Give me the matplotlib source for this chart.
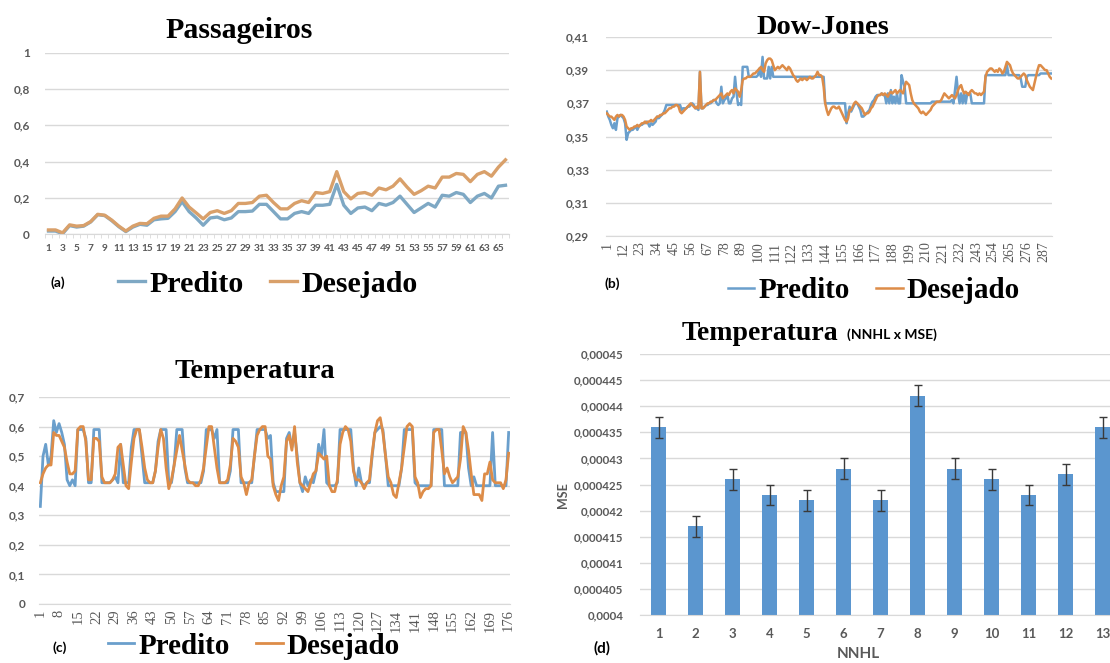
import numpy as np
import matplotlib
matplotlib.use("Agg")
import matplotlib.pyplot as plt
from matplotlib.ticker import FuncFormatter
from matplotlib.font_manager import FontProperties

# ---------------- data ----------------
# (a) Passageiros
pass_desejado = [0.024, 0.024, 0.008, 0.052, 0.045, 0.048, 0.07, 0.11, 0.105, 0.078,
                 0.045, 0.018, 0.045, 0.06, 0.058, 0.088, 0.1, 0.1, 0.14, 0.2,
                 0.15, 0.118, 0.085, 0.12, 0.13, 0.115, 0.13, 0.17, 0.17, 0.175,
                 0.21, 0.215, 0.175, 0.14, 0.14, 0.17, 0.185, 0.175, 0.23, 0.225,
                 0.235, 0.345, 0.235, 0.195, 0.225, 0.23, 0.215, 0.255, 0.245, 0.265,
                 0.305, 0.26, 0.22, 0.24, 0.265, 0.255, 0.315, 0.315, 0.335, 0.33,
                 0.29, 0.33, 0.345, 0.32, 0.37, 0.41]
pass_predito = [0.018, 0.018, 0.003, 0.048, 0.04, 0.045, 0.068, 0.108, 0.103, 0.075,
                0.042, 0.015, 0.04, 0.055, 0.05, 0.08, 0.085, 0.088, 0.125, 0.18,
                0.125, 0.09, 0.05, 0.09, 0.095, 0.08, 0.09, 0.125, 0.125, 0.128,
                0.165, 0.165, 0.125, 0.085, 0.085, 0.115, 0.125, 0.115, 0.16, 0.16,
                0.165, 0.275, 0.16, 0.115, 0.145, 0.15, 0.13, 0.17, 0.16, 0.175,
                0.21, 0.165, 0.12, 0.145, 0.17, 0.15, 0.215, 0.21, 0.23, 0.22,
                0.175, 0.21, 0.225, 0.2, 0.265, 0.27]
pass_yticks = [0, 0.2, 0.4, 0.6, 0.8, 1.0]
pass_xticks = list(range(1, 66, 2))

# (b) Dow-Jones, in thousandths
dow_desejado_k = [
    364, 363, 362, 362, 361, 360, 362, 363, 362, 363,
    363, 362, 360, 356, 355, 354, 355, 355, 356, 356,
    357, 356, 357, 358, 358, 359, 358, 359, 359, 360,
    359, 360, 361, 362, 362, 363, 363, 364, 364, 365,
    366, 367, 367, 368, 368, 369, 369, 368, 365, 364,
    365, 366, 367, 368, 369, 370, 369, 368, 367, 368,
    367, 389, 367, 367, 368, 369, 370, 370, 371, 371,
    372, 372, 373, 374, 375, 376, 373, 374, 375, 376,
    375, 377, 378, 376, 379, 378, 377, 374, 378, 384,
    385, 385, 386, 386, 386, 387, 388, 388, 389, 390,
    391, 392, 390, 389, 394, 396, 397, 397, 396, 393,
    390, 391, 392, 391, 392, 393, 392, 391, 390, 392,
    391, 389, 387, 386, 384, 383, 384, 385, 384, 385,
    385, 384, 385, 386, 385, 385, 386, 387, 389, 387,
    387, 386, 380, 370, 366, 363, 365, 367, 368, 368,
    367, 367, 368, 366, 364, 362, 360, 359, 361, 366,
    366, 368, 370, 371, 370, 369, 368, 367, 365, 363,
    364, 364, 365, 367, 368, 370, 372, 374, 375, 375,
    376, 375, 376, 375, 374, 376, 377, 376, 377, 378,
    376, 377, 378, 377, 376, 380, 383, 382, 381, 376,
    372, 370, 369, 368, 367, 365, 364, 365, 364, 363,
    364, 365, 366, 368, 369, 370, 371, 371, 371, 372,
    374, 376, 375, 374, 373, 374, 375, 374, 373, 375,
    378, 380, 381, 378, 376, 377, 376, 375, 377, 378,
    377, 376, 376, 375, 376, 375, 376, 377, 386, 389,
    390, 391, 391, 390, 389, 390, 389, 391, 390, 388,
    389, 392, 395, 394, 393, 390, 388, 387, 386, 385,
    385, 386, 387, 388, 387, 384, 382, 380, 379, 378,
    382, 386, 390, 393, 393, 392, 391, 390, 390, 388,
    386, 385]
dow_predito_k = [
    365, 362, 360, 357, 355, 358, 354, 361, 362, 363,
    362, 361, 358, 348, 352, 353, 354, 354, 355, 356,
    354, 356, 357, 357, 358, 358, 359, 358, 356, 358,
    357, 358, 359, 362, 361, 362, 363, 364, 366, 369,
    369, 369, 369, 369, 369, 369, 369, 369, 369, 366,
    367, 367, 367, 368, 368, 369, 370, 369, 367, 367,
    366, 389, 367, 367, 368, 369, 369, 370, 370, 371,
    372, 372, 370, 369, 370, 380, 370, 372, 373, 375,
    370, 370, 373, 374, 386, 376, 369, 370, 369, 392,
    392, 392, 392, 386, 386, 386, 386, 386, 386, 387,
    391, 386, 398, 385, 385, 385, 392, 385, 392, 386,
    386, 386, 386, 386, 386, 386, 386, 386, 386, 386,
    386, 386, 386, 386, 386, 386, 386, 386, 386, 386,
    386, 386, 386, 386, 386, 386, 386, 386, 386, 386,
    386, 386, 386, 370, 370, 370, 370, 370, 370, 370,
    370, 370, 370, 370, 370, 370, 370, 358, 364, 368,
    365, 367, 369, 370, 370, 368, 366, 362, 362, 363,
    364, 365, 366, 369, 371, 372, 374, 375, 375, 375,
    376, 375, 375, 370, 376, 370, 378, 370, 374, 370,
    376, 370, 370, 387, 383, 380, 370, 370, 370, 370,
    370, 370, 370, 370, 370, 370, 370, 370, 370, 370,
    370, 370, 370, 371, 371, 371, 371, 371, 371, 371,
    371, 371, 371, 371, 371, 371, 372, 370, 378, 386,
    376, 370, 376, 370, 376, 370, 376, 376, 376, 370,
    370, 370, 370, 370, 370, 370, 370, 370, 387, 387,
    387, 387, 387, 387, 387, 387, 387, 387, 387, 387,
    387, 387, 393, 387, 387, 387, 387, 387, 387, 387,
    387, 385, 380, 380, 380, 386, 387, 387, 387, 387,
    387, 387, 387, 387, 388, 388, 388, 388, 388, 388,
    388, 388]
dow_yticks = [0.29, 0.31, 0.33, 0.35, 0.37, 0.39, 0.41]
dow_xticks = list(range(1, 293, 11))

# (c) Temperatura, in hundredths
temp_desejado_c = [
    41, 44, 46, 47, 47, 58, 57, 57, 55, 53, 48, 44, 44, 45, 59, 60, 60, 55, 42, 42,
    56, 56, 55, 43, 41, 41, 41, 42, 44, 53, 54, 47, 40, 39, 48, 56, 59, 59, 53, 46,
    42, 41, 41, 45, 53, 59, 56, 46, 39, 42, 47, 52, 57, 52, 47, 42, 41, 41, 40, 40,
    42, 46, 53, 60, 60, 53, 46, 41, 41, 41, 42, 47, 56, 55, 53, 43, 41, 37, 41, 42,
    50, 57, 59, 60, 60, 50, 49, 40, 37, 35, 40, 43, 55, 57, 52, 60, 48, 41, 40, 39,
    38, 41, 44, 45, 51, 50, 49, 50, 40, 38, 38, 42, 54, 58, 60, 59, 55, 45, 42, 42,
    41, 39, 41, 42, 51, 58, 62, 63, 58, 50, 43, 41, 37, 36, 41, 46, 53, 60, 61, 60,
    43, 41, 36, 38, 39, 39, 40, 58, 59, 59, 52, 44, 46, 43, 41, 42, 43, 49, 60, 58,
    52, 44, 37, 37, 37, 35, 44, 44, 48, 42, 41, 41, 41, 39, 42, 51]
temp_predito_c = [
    33, 50, 54, 47, 50, 62, 58, 61, 58, 54, 42, 40, 42, 40, 59, 59, 59, 56, 41, 41,
    59, 59, 59, 41, 41, 41, 41, 42, 43, 41, 54, 41, 41, 41, 53, 59, 59, 59, 50, 41,
    41, 41, 41, 45, 55, 59, 59, 59, 41, 41, 47, 59, 59, 59, 46, 41, 41, 41, 41, 41,
    41, 45, 59, 59, 59, 56, 59, 41, 41, 41, 41, 45, 59, 59, 59, 41, 41, 41, 41, 41,
    50, 59, 59, 59, 59, 56, 57, 41, 38, 38, 38, 38, 56, 58, 53, 58, 50, 41, 38, 43,
    40, 42, 41, 45, 54, 50, 59, 41, 40, 40, 40, 41, 59, 59, 59, 59, 59, 46, 40, 46,
    41, 40, 41, 41, 50, 58, 59, 60, 59, 50, 40, 40, 40, 40, 40, 46, 59, 59, 59, 59,
    41, 40, 40, 40, 40, 40, 40, 59, 59, 59, 59, 40, 40, 40, 40, 40, 40, 58, 58, 58,
    46, 40, 43, 40, 40, 40, 40, 40, 40, 58, 40, 40, 40, 40, 40, 58]
temp_yticks = [0, 0.1, 0.2, 0.3, 0.4, 0.5, 0.6, 0.7]
temp_xticks = list(range(1, 177, 7))

# (d) MSE by number of hidden-layer neurons
nnhl = list(range(1, 14))
mse = [0.000436, 0.000417, 0.000426, 0.000423, 0.000422, 0.000428, 0.000422,
       0.000442, 0.000428, 0.000426, 0.000423, 0.000427, 0.000436]
mse_err = [0.000002] * 13
mse_yticks = [0.0004, 0.000405, 0.00041, 0.000415, 0.00042, 0.000425,
              0.00043, 0.000435, 0.00044, 0.000445, 0.00045]

# ---------------- style ----------------
W, H = 1110, 663
BLUE = "#6a9fcc"
ORANGE = "#dd8c48"
BLUE_A = "#7ea8c4"
ORANGE_A = "#d9a06a"
BAR = "#5b96cf"
GRID = "#d9d9d9"
TICK = "#595959"
SANS = "Lato"
SERIF = "Liberation Serif"

fig = plt.figure(figsize=(W / 100, H / 100), dpi=100)


def box(x0, x1, ytop, ybot):
    return [x0 / W, 1 - ybot / H, (x1 - x0) / W, (ybot - ytop) / H]


def comma(v, pos):
    return f"{v:.6g}".replace(".", ",")


def base_style(ax, yticks, ylabel_size, ypad):
    for s in ax.spines.values():
        s.set_visible(False)
    ax.spines["bottom"].set_visible(True)
    ax.spines["bottom"].set_color(GRID)
    ax.set_yticks(yticks)
    ax.set_ylim(yticks[0], yticks[-1])
    ax.yaxis.set_major_formatter(FuncFormatter(comma))
    ax.grid(axis="y", color=GRID, lw=1)
    ax.set_axisbelow(True)
    ax.tick_params(axis="y", length=0, pad=ypad, labelsize=ylabel_size,
                   labelcolor=TICK)
    for t in ax.get_yticklabels():
        t.set_fontfamily(SANS)
        t.set_fontweight("bold")


def legend(ax, handles, x, y, size):
    ax.legend(handles=handles, labels=["Predito", "Desejado"], loc="center left",
              bbox_to_anchor=(x / W, 1 - y / H), bbox_transform=fig.transFigure,
              ncol=2, frameon=False, borderpad=0, borderaxespad=0,
              handlelength=0.9, handletextpad=0.15, columnspacing=0.9,
              prop=FontProperties(family=SERIF, weight="bold", size=size))


def title(x, y, s, size=21):
    fig.text(x / W, 1 - y / H, s, ha="center", va="center", family=SERIF,
             weight="bold", size=size, color="black")


def tag(x, y, s, size=10):
    fig.text(x / W, 1 - y / H, s, ha="center", va="center", family=SANS,
             weight="bold", size=size, color="black")


# ---------------- (a) Passageiros ----------------
ax = fig.add_axes(box(45, 509, 52.7, 234.3))
xa = np.arange(1, len(pass_desejado) + 1)
lp, = ax.plot(xa, pass_predito, color=BLUE_A, lw=2.4)
ld, = ax.plot(xa, pass_desejado, color=ORANGE_A, lw=2.4)
base_style(ax, pass_yticks, 8.5, 11)
ax.set_xlim(0.5, len(xa) + 0.5)
ax.set_xticks(pass_xticks)
ax.set_xticks(np.arange(0.5, len(xa) + 1), minor=True)
ax.tick_params(axis="x", which="minor", length=3, color=GRID)
ax.tick_params(axis="x", which="major", length=0, pad=7, labelsize=7.3,
               labelcolor=TICK)
for t in ax.get_xticklabels():
    t.set_fontfamily(SANS)
    t.set_fontweight("bold")
title(239, 30, "Passageiros", 21.5)
tag(58, 283, "(a)")
legend(ax, [lp, ld], 118, 284, 21.5)

# ---------------- (b) Dow-Jones ----------------
ax = fig.add_axes(box(606, 1052, 37, 236))
xb = np.arange(1, len(dow_desejado_k) + 1)
lp, = ax.plot(xb, np.array(dow_predito_k) / 1000, color=BLUE, lw=1.8)
ld, = ax.plot(xb, np.array(dow_desejado_k) / 1000, color=ORANGE, lw=1.8)
base_style(ax, dow_yticks, 8.5, 12)
ax.set_xlim(0.5, len(xb) + 0.5)
ax.set_xticks(dow_xticks)
ax.tick_params(axis="x", length=0, pad=4, labelsize=10, labelcolor=TICK,
               labelrotation=90)
for t in ax.get_xticklabels():
    t.set_fontfamily(SERIF)
title(823, 27, "Dow-Jones", 20.5)
tag(612, 284, "(b)")
legend(ax, [lp, ld], 728, 291, 21)

# ---------------- (c) Temperatura ----------------
ax = fig.add_axes(box(39, 510, 397, 604))
xc = np.arange(1, len(temp_desejado_c) + 1)
lp, = ax.plot(xc, np.array(temp_predito_c) / 100, color=BLUE, lw=2.0)
ld, = ax.plot(xc, np.array(temp_desejado_c) / 100, color=ORANGE, lw=2.0)
base_style(ax, temp_yticks, 8.5, 10)
ax.set_xlim(0.5, len(xc) + 0.5)
ax.set_xticks(temp_xticks)
ax.tick_params(axis="x", length=0, pad=4, labelsize=10.5, labelcolor=TICK,
               labelrotation=90)
for t in ax.get_xticklabels():
    t.set_fontfamily(SERIF)
title(255, 372, "Temperatura", 20.5)
tag(60, 648, "(c)")
legend(ax, [lp, ld], 108, 646, 21)

# ---------------- (d) NNHL x MSE ----------------
ax = fig.add_axes(box(640, 1121, 354, 615))
ax.bar(nnhl, mse, width=0.39, color=BAR, zorder=2)
ax.errorbar(nnhl, mse, yerr=mse_err, fmt="none", ecolor="#3a3a3a",
            elinewidth=1, capsize=3, capthick=1, zorder=3)
base_style(ax, mse_yticks, 8.3, 12)
ax.set_xlim(0.5, len(nnhl) + 0.5)
ax.set_xticks(nnhl)
ax.tick_params(axis="x", length=0, pad=9, labelsize=9.5, labelcolor=TICK)
for t in ax.get_xticklabels():
    t.set_fontfamily(SANS)
    t.set_fontweight("bold")
fig.text(563 / W, 1 - 495 / H, "MSE", rotation=90, ha="center", va="center",
         family=SANS, weight="bold", size=9, color=TICK)
fig.text(858 / W, 1 - 654 / H, "NNHL", ha="center", va="center",
         family=SANS, weight="bold", size=11, color=TICK)
fig.text(838 / W, 1 - 333 / H, "Temperatura", ha="right", va="center",
         family=SERIF, weight="bold", size=20, color="black")
fig.text(847 / W, 1 - 335 / H, "(NNHL x MSE)", ha="left", va="center",
         family=SANS, weight="bold", size=10, color="black")
tag(602, 648, "(d)", 11)

fig.savefig("out.png", dpi=100)
